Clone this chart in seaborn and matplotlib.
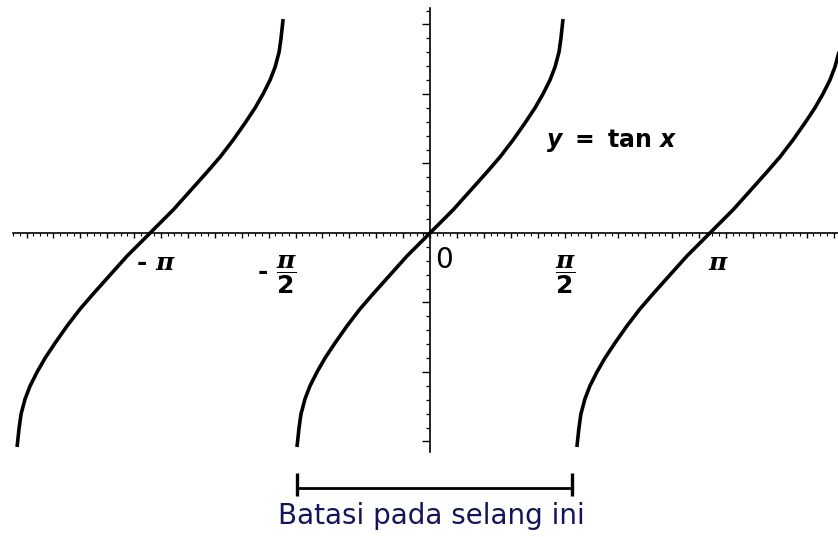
import numpy as np
import pandas as pd
import matplotlib
matplotlib.use("Agg")
import matplotlib.pyplot as plt
import seaborn as sns

# ---------------- data ----------------
# one branch of the curve, relative to its centre (x in radians, y in y-tick units)
branch_x = [-1.493, -1.470, -1.448, -1.403, -1.347, -1.268, -1.178, -1.066, -0.932,
            -0.786, -0.640, -0.449, -0.258, -0.112, 0.0, 0.112, 0.258, 0.449, 0.640,
            0.786, 0.932, 1.066, 1.178, 1.268, 1.347, 1.403, 1.448, 1.470, 1.493]
branch_y = [-3.079, -2.806, -2.604, -2.388, -2.201, -2.000, -1.799, -1.583, -1.338,
            -1.094, -0.878, -0.604, -0.331, -0.144, 0.0, 0.144, 0.331, 0.604, 0.878,
            1.094, 1.338, 1.583, 1.799, 2.000, 2.201, 2.388, 2.604, 2.806, 3.079]
branch_centers = [-np.pi, 0.0, np.pi]

tick_label_values = [-np.pi, -np.pi / 2, 0.0, np.pi / 2, np.pi]
tick_label_texts = [r"- $\mathsf{\pi}$",
                    r"- $\dfrac{\mathsf{\pi}}{\mathrm{2}}$",
                    "0",
                    r"$\dfrac{\mathsf{\pi}}{\mathrm{2}}$",
                    r"$\mathsf{\pi}$"]
curve_label = r"$y\ =\ \mathrm{tan}\ x$"
interval_ends = [-1.49, 1.59]
interval_text = "Batasi pada selang ini"

# ---------------- style ----------------
sns.set_style("white")
plt.rcParams["font.family"] = ["DejaVu Sans"]
plt.rcParams["mathtext.fontset"] = "custom"
plt.rcParams["mathtext.rm"] = "DejaVu Sans:bold"
plt.rcParams["mathtext.bf"] = "DejaVu Sans:bold"
plt.rcParams["mathtext.it"] = "DejaVu Sans:italic:bold"
plt.rcParams["mathtext.sf"] = "DejaVu Serif:italic:bold"

PX_X = 89.1   # pixels per radian
PX_Y = 69.5   # pixels per y unit

fig = plt.figure(figsize=(8.38, 5.37), dpi=100)
fig.patch.set_facecolor("white")
ax = fig.add_axes([0, 0, 1, 1])
ax.set_facecolor("white")

df = pd.concat(
    [pd.DataFrame({"x": np.asarray(branch_x) + c, "y": branch_y, "branch": i})
     for i, c in enumerate(branch_centers)],
    ignore_index=True)

sns.lineplot(data=df, x="x", y="y", units="branch", estimator=None, sort=False,
             color="black", linewidth=2.6, ax=ax, legend=False,
             solid_capstyle="butt", solid_joinstyle="round")

ax.set_xlim(-430 / PX_X, 408 / PX_X)
ax.set_ylim((233 - 537) / PX_Y, 233 / PX_Y)
ax.set_xlabel("")
ax.set_ylabel("")

# axes through the origin
for s in ["top", "right"]:
    ax.spines[s].set_visible(False)
for s in ["left", "bottom"]:
    ax.spines[s].set_position(("data", 0))
    ax.spines[s].set_color("black")
    ax.spines[s].set_linewidth(1.2)
    ax.spines[s].set_visible(True)
ax.spines["bottom"].set_bounds(-417 / PX_X, 408 / PX_X)
ax.spines["left"].set_bounds((233 - 452) / PX_Y, (233 - 8) / PX_Y)

xstep = 26.9 / PX_X
xt = np.arange(-16, 17) * xstep
xt = xt[(xt >= -417 / PX_X) & (xt <= 408 / PX_X)]
xm = np.arange(-64, 65) * xstep / 4
xm = xm[(xm >= -417 / PX_X) & (xm <= 408 / PX_X)]
ax.set_xticks(xt)
ax.set_xticks(xm, minor=True)
yt = np.arange(-3, 4)
ym = np.arange(-15, 17) * 0.2
ym = ym[(ym >= (233 - 452) / PX_Y) & (ym <= (233 - 8) / PX_Y)]
ax.set_yticks(yt)
ax.set_yticks(ym, minor=True)
ax.tick_params(axis="x", which="major", direction="out", length=3.5, width=1.0,
               color="black", bottom=True, labelbottom=False)
ax.tick_params(axis="x", which="minor", direction="out", length=1.8, width=0.8,
               color="black", bottom=True)
ax.tick_params(axis="y", which="major", direction="out", length=6.0, width=1.0,
               color="black", left=True, labelleft=False)
ax.tick_params(axis="y", which="minor", direction="out", length=3.0, width=0.9,
               color="black", left=True)
ax.grid(False)

# tick-value labels
label_offsets_px = [(6, -30), (-13, -42), (14, -27), (-4, -42), (9, -30)]
for v, t, (dx, dy) in zip(tick_label_values, tick_label_texts, label_offsets_px):
    if t == "0":
        ax.text(v + dx / PX_X, dy / PX_Y, t, fontsize=20, color="black",
                ha="center", va="center", family="DejaVu Sans")
    else:
        ax.text(v + dx / PX_X, dy / PX_Y, t, fontsize=18, color="black",
                fontweight="bold", ha="center", va="center")

# function label
ax.text((612 - 430) / PX_X, (233 - 141) / PX_Y, curve_label, fontsize=17,
        color="black", ha="center", va="center")

# interval bracket
yb = (233 - 488) / PX_Y
ax.hlines(yb, interval_ends[0], interval_ends[1], color="black", linewidth=2.0)
ax.vlines(interval_ends, (233 - 496) / PX_Y, (233 - 473) / PX_Y, color="black",
          linewidth=2.4)
ax.text((interval_ends[0] + interval_ends[1]) / 2 - 0.04, (233 - 516) / PX_Y,
        interval_text, fontsize=20, color="#14145a", ha="center", va="center")

fig.savefig("out.png", dpi=100, facecolor="white")
